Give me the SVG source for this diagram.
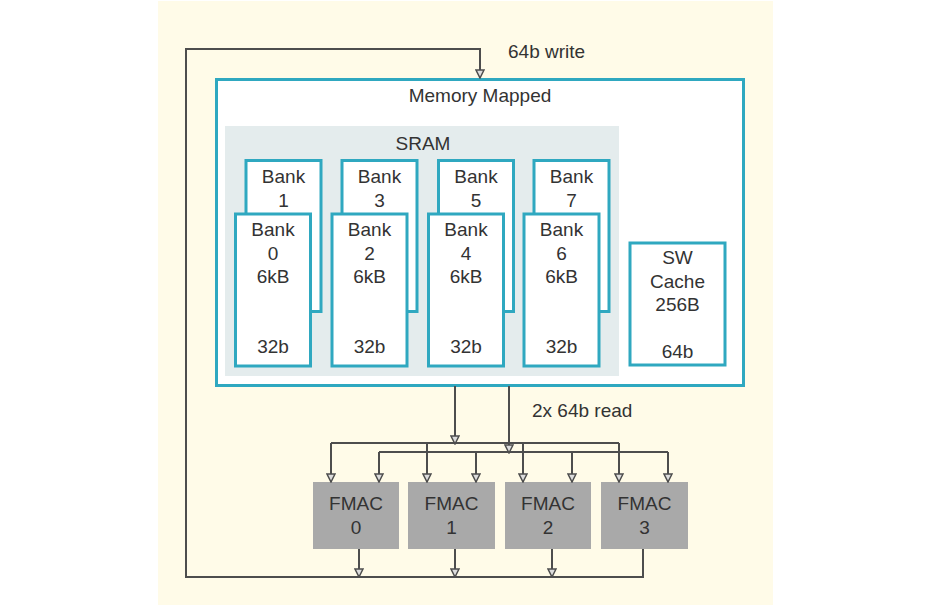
<svg xmlns="http://www.w3.org/2000/svg" width="944" height="608" viewBox="0 0 944 608">
  <style>
    .txt { font-family: "Liberation Sans", Arial, sans-serif; font-size: 19px; fill: #333; text-anchor: middle; }
    .lbl { font-family: "Liberation Sans", Arial, sans-serif; font-size: 19px; fill: #333; }
    .teal { fill: #fff; stroke: #2fa8c0; stroke-width: 3; }
    .fmac { fill: #a9a9a9; }
    .wire { fill: none; stroke: #4d4d4d; stroke-width: 2; }
  </style>
  <defs>
    <!-- arrowhead drawn along +x so orient="auto" follows the wire -->
    <marker id="arr" markerUnits="userSpaceOnUse" markerWidth="10" markerHeight="10" refX="9" refY="5" orient="auto" viewBox="0 0 10 10">
      <path d="M1,1 L9,5 L1,9 Z" fill="#ddd" stroke="#4d4d4d" stroke-width="1.5"/>
    </marker>
  </defs>

  <!-- background panel -->
  <rect x="158" y="1" width="615" height="604" fill="#fffbe8"/>

  <!-- memory mapped region -->
  <g id="memory-mapped">
    <rect class="teal" x="216.5" y="79.5" width="527" height="306"/>
    <text class="txt" x="480" y="102">Memory Mapped</text>
  </g>

  <g id="sram">
    <rect x="225" y="126" width="394" height="250" fill="#e4eced"/>
    <text class="txt" x="423" y="150">SRAM</text>
  </g>

  <!-- odd banks (behind) -->
  <g id="bank1">
    <rect class="teal" x="246" y="160.5" width="75" height="151"/>
    <text class="txt" x="283.5" y="183">Bank</text>
    <text class="txt" x="283.5" y="207">1</text>
  </g>
  <g id="bank3">
    <rect class="teal" x="342" y="160.5" width="75" height="151"/>
    <text class="txt" x="379.5" y="183">Bank</text>
    <text class="txt" x="379.5" y="207">3</text>
  </g>
  <g id="bank5">
    <rect class="teal" x="438.5" y="160.5" width="75" height="151"/>
    <text class="txt" x="476" y="183">Bank</text>
    <text class="txt" x="476" y="207">5</text>
  </g>
  <g id="bank7">
    <rect class="teal" x="534" y="160.5" width="75" height="151"/>
    <text class="txt" x="571.5" y="183">Bank</text>
    <text class="txt" x="571.5" y="207">7</text>
  </g>

  <!-- even banks (front) -->
  <g id="bank0">
    <rect class="teal" x="235.5" y="214" width="75" height="152"/>
    <text class="txt" x="273" y="236">Bank</text>
    <text class="txt" x="273" y="260">0</text>
    <text class="txt" x="273" y="283">6kB</text>
    <text class="txt" x="273" y="353">32b</text>
  </g>
  <g id="bank2">
    <rect class="teal" x="332" y="214" width="75" height="152"/>
    <text class="txt" x="369.5" y="236">Bank</text>
    <text class="txt" x="369.5" y="260">2</text>
    <text class="txt" x="369.5" y="283">6kB</text>
    <text class="txt" x="369.5" y="353">32b</text>
  </g>
  <g id="bank4">
    <rect class="teal" x="428.5" y="214" width="75" height="152"/>
    <text class="txt" x="466" y="236">Bank</text>
    <text class="txt" x="466" y="260">4</text>
    <text class="txt" x="466" y="283">6kB</text>
    <text class="txt" x="466" y="353">32b</text>
  </g>
  <g id="bank6">
    <rect class="teal" x="524" y="214" width="75" height="152"/>
    <text class="txt" x="561.5" y="236">Bank</text>
    <text class="txt" x="561.5" y="260">6</text>
    <text class="txt" x="561.5" y="283">6kB</text>
    <text class="txt" x="561.5" y="353">32b</text>
  </g>

  <g id="sw-cache">
    <rect class="teal" x="630" y="243" width="95" height="122"/>
    <text class="txt" x="677.5" y="264">SW</text>
    <text class="txt" x="677.5" y="288">Cache</text>
    <text class="txt" x="677.5" y="311">256B</text>
    <text class="txt" x="677.5" y="358">64b</text>
  </g>

  <!-- FMAC units -->
  <g id="fmac0">
    <rect class="fmac" x="313" y="482" width="86" height="67"/>
    <text class="txt" x="356" y="510">FMAC</text>
    <text class="txt" x="356" y="534">0</text>
  </g>
  <g id="fmac1">
    <rect class="fmac" x="408" y="482" width="87" height="67"/>
    <text class="txt" x="451.5" y="510">FMAC</text>
    <text class="txt" x="451.5" y="534">1</text>
  </g>
  <g id="fmac2">
    <rect class="fmac" x="505" y="482" width="86" height="67"/>
    <text class="txt" x="548" y="510">FMAC</text>
    <text class="txt" x="548" y="534">2</text>
  </g>
  <g id="fmac3">
    <rect class="fmac" x="601" y="482" width="87" height="67"/>
    <text class="txt" x="644.5" y="510">FMAC</text>
    <text class="txt" x="644.5" y="534">3</text>
  </g>

  <!-- connectors -->
  <g id="connectors">
    <!-- write-back loop -->
    <path class="wire" d="M643,549 V577 H186 V49 H480 V78" marker-end="url(#arr)"/>
    <path class="wire" d="M359,549 V577" marker-end="url(#arr)"/>
    <path class="wire" d="M455,549 V577" marker-end="url(#arr)"/>
    <path class="wire" d="M552,549 V577" marker-end="url(#arr)"/>

    <!-- read port A -->
    <path class="wire" d="M455,386 V444" marker-end="url(#arr)"/>
    <path class="wire" d="M331,443 H619"/>
    <path class="wire" d="M331,443 V482" marker-end="url(#arr)"/>
    <path class="wire" d="M427,443 V482" marker-end="url(#arr)"/>
    <path class="wire" d="M523,443 V482" marker-end="url(#arr)"/>
    <path class="wire" d="M619,443 V482" marker-end="url(#arr)"/>

    <!-- read port B -->
    <path class="wire" d="M509,386 V453" marker-end="url(#arr)"/>
    <path class="wire" d="M379,452 H668"/>
    <path class="wire" d="M379,452 V482" marker-end="url(#arr)"/>
    <path class="wire" d="M476,452 V482" marker-end="url(#arr)"/>
    <path class="wire" d="M572,452 V482" marker-end="url(#arr)"/>
    <path class="wire" d="M668,452 V482" marker-end="url(#arr)"/>
  </g>

  <text class="lbl" x="508" y="58">64b write</text>
  <text class="lbl" x="532" y="417">2x 64b read</text>
</svg>
